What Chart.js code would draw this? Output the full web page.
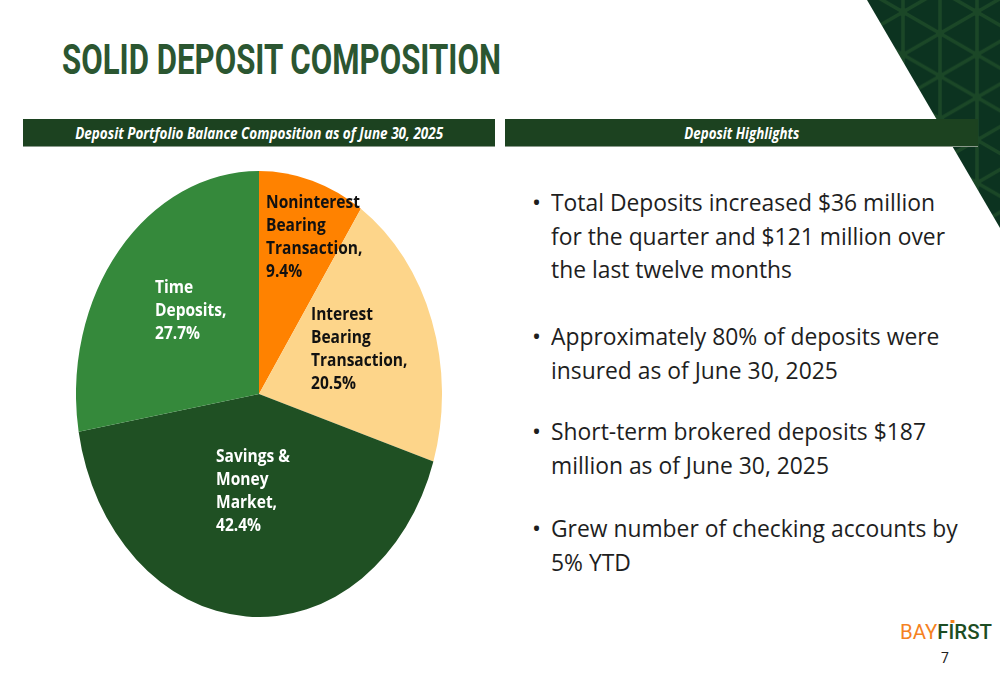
<!DOCTYPE html>
<html>
<head>
<meta charset="utf-8">
<script src="https://cdn.jsdelivr.net/npm/chart.js@4.4.1/dist/chart.umd.min.js"></script>
<style>
body { margin: 0; width: 1000px; height: 685px; position: relative; overflow: hidden; background: #fff; font-family: "Open Sans", sans-serif; }
#deco { position: absolute; left: 0; top: 0; }
#title { position: absolute; left: 62px; top: 36px; font-family: Roboto, sans-serif; font-weight: 700; font-size: 42px; line-height: 48px; color: #2b5631; white-space: nowrap; transform-origin: left center; }
.bar { position: absolute; top: 119px; height: 28px; background: #1c4220; border-bottom: 1px solid #8a9a8b; box-sizing: border-box; display: flex; align-items: center; justify-content: center; z-index: 2; }
.bar span { color: #fff; font-weight: 700; font-style: italic; font-size: 15.5px; white-space: nowrap; display: inline-block; transform-origin: center; }
#pieBox { position: absolute; left: 76px; top: 171px; width: 366px; height: 446px; }
.item { position: absolute; left: 532px; font-size: 24px; line-height: 33.5px; color: #1e1e1e; white-space: nowrap; }
.item .dot { position: absolute; left: 0; top: 0; font-size: 24px; }
.item .txt { display: inline-block; margin-left: 19px; transform-origin: left top; }
#logo { position: absolute; left: 900px; top: 620px; font-family: Roboto, sans-serif; font-size: 21px; line-height: 24px; white-space: nowrap; transform-origin: left center; }
#logo .bay { color: #f5821f; font-weight: 400; }
#logo .first { color: #1d4d23; font-weight: 500; }
#logo .i { position: relative; }
#logo .i::before { content: ""; position: absolute; left: 2px; top: 0px; width: 4px; height: 3px; background: #f5821f; }
#page { position: absolute; left: 941px; top: 650px; font-family: Roboto, sans-serif; font-size: 14px; color: #222; }
</style>
</head>
<body>
<svg id="deco" width="1000" height="685">
  <defs>
    <pattern id="tri" width="74" height="42.7" patternUnits="userSpaceOnUse" x="903" y="12">
      <rect width="74" height="42.7" fill="#0c3320"/>
      <g stroke="#1b4727" stroke-width="3.5">
        <line x1="0" y1="0" x2="0" y2="42.7"/>
        <line x1="37" y1="0" x2="37" y2="42.7"/>
        <line x1="74" y1="0" x2="74" y2="42.7"/>
        <line x1="0" y1="0" x2="37" y2="21.35"/>
        <line x1="0" y1="42.7" x2="37" y2="21.35"/>
        <line x1="37" y1="21.35" x2="74" y2="0"/>
        <line x1="37" y1="21.35" x2="74" y2="42.7"/>
      </g>
      <g fill="#1b4727">
        <circle cx="0" cy="0" r="4"/><circle cx="74" cy="0" r="4"/>
        <circle cx="0" cy="42.7" r="4"/><circle cx="74" cy="42.7" r="4"/>
        <circle cx="37" cy="21.35" r="4"/>
      </g>
    </pattern>
  </defs>
  <polygon points="867,0 1000,0 1000,228" fill="url(#tri)"/>
</svg>

<div id="title">SOLID DEPOSIT COMPOSITION</div>
<div class="bar" style="left:23px;width:472px"><span data-w="368">Deposit Portfolio Balance Composition as of June 30, 2025</span></div>
<div class="bar" style="left:505px;width:473px"><span data-w="115">Deposit Highlights</span></div>

<div id="pieBox"><canvas id="pie"></canvas></div>

<div class="item" style="top:185px"><span class="dot">•</span><span class="txt"><span id="l1">Total Deposits increased $36 million</span><br>for the quarter and $121 million over<br>the last twelve months</span></div>
<div class="item" style="top:319px"><span class="dot">•</span><span class="txt">Approximately 80% of deposits were<br>insured as of June 30, 2025</span></div>
<div class="item" style="top:414px"><span class="dot">•</span><span class="txt">Short-term brokered deposits $187<br>million as of June 30, 2025</span></div>
<div class="item" style="top:511px"><span class="dot">•</span><span class="txt">Grew number of checking accounts by<br>5% YTD</span></div>

<div id="logo"><span class="bay">BAY</span><span class="first">F<span class="i">I</span>RST</span></div>
<div id="page">7</div>

<script>
// deposit mix, June 30, 2025 (%)
var categories = [
    ['Noninterest', 'Bearing', 'Transaction'],
    ['Interest', 'Bearing', 'Transaction'],
    ['Savings &', 'Money', 'Market'],
    ['Time', 'Deposits']
];
var shares = [9.4, 20.5, 42.4, 27.7];
var sliceColors = ['#ff8200', '#fdd58a', '#1f5023', '#35893b'];
var labelColors = ['#111', '#111', '#fff', '#fff'];
// label top-left offset from pie centre (px)
var labelOffsets = [[7, -191], [52, -79], [-43, 63], [-104, -106]];

// squeeze text to the width it has on the slide
function fit(el, target) {
    var w = el.getBoundingClientRect().width;
    el.style.transform = 'scaleX(' + (target / w) + ')';
}
fit(document.getElementById('title'), 439);
document.querySelectorAll('.bar span').forEach(function (s) { fit(s, +s.dataset.w); });
fit(document.getElementById('logo'), 92);
var k = 384 / document.getElementById('l1').getBoundingClientRect().width;
document.querySelectorAll('.item .txt').forEach(function (t) { t.style.transform = 'scaleX(' + k + ')'; });

var stretchY = 446 / 366;

var ellipse = {
    id: 'ellipse',
    beforeDatasetsDraw: function (chart) {
        var a = chart.chartArea;
        var cx = (a.left + a.right) / 2, cy = (a.top + a.bottom) / 2;
        chart.ctx.save();
        chart.ctx.translate(cx, cy);
        chart.ctx.scale(1, stretchY);
        chart.ctx.translate(-cx, -cy);
    },
    afterDatasetsDraw: function (chart) {
        chart.ctx.restore();
    },
    afterDraw: function (chart) {
        var ctx = chart.ctx;
        var a = chart.chartArea;
        var cx = (a.left + a.right) / 2, cy = (a.top + a.bottom) / 2;
        ctx.save();
        ctx.font = 'bold 18px "Open Sans"';
        ctx.textBaseline = 'middle';
        ctx.textAlign = 'left';
        var sx = 94 / ctx.measureText('Noninterest').width;
        categories.forEach(function (lines, i) {
            var all = lines.slice();
            all[all.length - 1] += ',';
            all.push(shares[i].toFixed(1) + '%');
            ctx.fillStyle = labelColors[i];
            all.forEach(function (ln, j) {
                ctx.save();
                ctx.translate(cx + labelOffsets[i][0], cy + labelOffsets[i][1] + j * 23);
                ctx.scale(sx, 1);
                ctx.fillText(ln, 0, 0);
                ctx.restore();
            });
        });
        ctx.restore();
    }
};

new Chart(document.getElementById('pie'), {
    type: 'pie',
    data: {
        labels: categories.map(function (c) { return c.join(' '); }),
        datasets: [{
            data: shares,
            backgroundColor: sliceColors,
            borderWidth: 0
        }]
    },
    options: {
        responsive: true,
        maintainAspectRatio: false,
        animation: false,
        layout: { padding: 0 },
        plugins: {
            legend: { display: false },
            tooltip: { enabled: false }
        }
    },
    plugins: [ellipse]
});
</script>
</body>
</html>
